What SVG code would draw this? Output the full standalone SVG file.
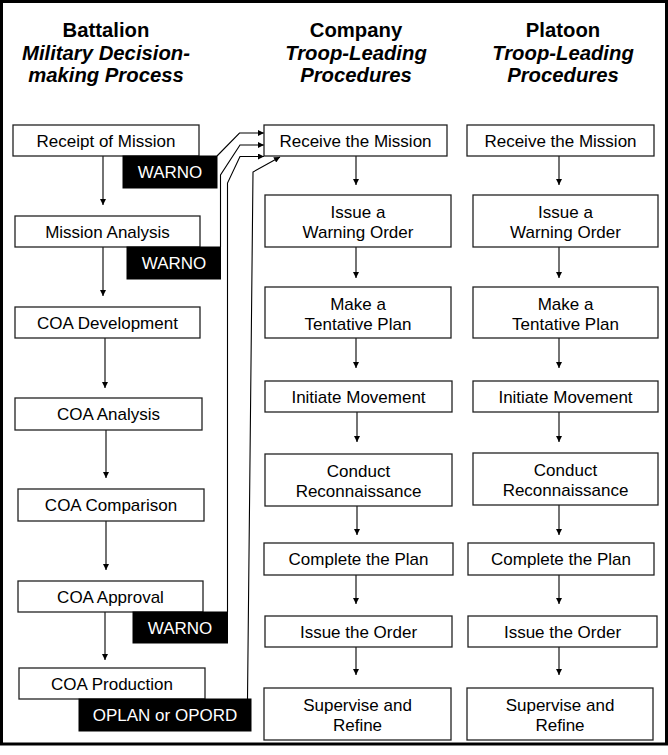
<svg xmlns="http://www.w3.org/2000/svg" width="668" height="755" viewBox="0 0 668 755">
  <style>
    .box { fill: #ffffff; stroke: #222222; stroke-width: 1.3; }
    .tag { fill: #000000; stroke: #000000; stroke-width: 1; }
    .lbl { font-family: "Liberation Sans", Arial, sans-serif; font-size: 17px; fill: #000000; text-anchor: middle; }
    .tlbl { font-family: "Liberation Sans", Arial, sans-serif; font-size: 17px; fill: #ffffff; text-anchor: middle; }
    .head { font-family: "Liberation Sans", Arial, sans-serif; font-size: 20.3px; font-weight: bold; fill: #000000; text-anchor: middle; }
    .sub { font-style: italic; }
    .link { fill: none; stroke: #000000; stroke-width: 1.1; marker-end: url(#arrow); }
  </style>
  <defs>
    <marker id="arrow" viewBox="0 0 10 10" refX="10" refY="5" markerWidth="7" markerHeight="6" markerUnits="userSpaceOnUse" orient="auto">
      <path d="M0,0 L10,5 L0,10 z" fill="#000000"/>
    </marker>
  </defs>

  <rect x="0" y="0" width="668" height="755" fill="#ffffff"/>
  <rect x="1.5" y="1.5" width="665" height="742.5" fill="none" stroke="#000000" stroke-width="3"/>

  <!-- column headings -->
  <g id="heading-battalion">
    <text class="head" x="106" y="37">Battalion</text>
    <text class="head sub" x="106" y="60">Military Decision-</text>
    <text class="head sub" x="106" y="82">making Process</text>
  </g>
  <g id="heading-company">
    <text class="head" x="356" y="37">Company</text>
    <text class="head sub" x="356" y="60">Troop-Leading</text>
    <text class="head sub" x="356" y="82">Procedures</text>
  </g>
  <g id="heading-platoon">
    <text class="head" x="563" y="37">Platoon</text>
    <text class="head sub" x="563" y="60">Troop-Leading</text>
    <text class="head sub" x="563" y="82">Procedures</text>
  </g>

  <!-- connectors -->
  <g id="connectors">
    <!-- battalion sequence -->
    <path class="link" d="M103,156 L103,205"/>
    <path class="link" d="M103,247 L103,296"/>
    <path class="link" d="M105,338 L105,388"/>
    <path class="link" d="M106,430 L106,478"/>
    <path class="link" d="M106,521 L106,570"/>
    <path class="link" d="M105,612 L105,660"/>
    <!-- orders passed to company -->
    <path class="link" d="M217,156 L239.5,133 L264,133"/>
    <path class="link" d="M220.5,247 L220.5,175 L240,145 L264,145"/>
    <path class="link" d="M227.5,612 L227.5,183 L240,156.5 L264,156.5"/>
    <path class="link" d="M247.5,699 L253,172 L280,157"/>
    <!-- company sequence -->
    <path class="link" d="M356,156 L356,185"/>
    <path class="link" d="M356,247 L356,278"/>
    <path class="link" d="M356,338 L356,368"/>
    <path class="link" d="M357,412 L357,442"/>
    <path class="link" d="M357,506 L357,535"/>
    <path class="link" d="M356,575 L356,604"/>
    <path class="link" d="M356,647 L356,675"/>
    <!-- platoon sequence -->
    <path class="link" d="M559,156 L559,185"/>
    <path class="link" d="M559,247 L559,278"/>
    <path class="link" d="M559,338 L559,368"/>
    <path class="link" d="M559,412 L559,442"/>
    <path class="link" d="M559,505 L559,535"/>
    <path class="link" d="M559,575 L559,604"/>
    <path class="link" d="M559,647 L559,675"/>
  </g>

  <!-- battalion steps -->
  <g id="b-receipt">
    <rect class="box" x="13" y="125" width="186" height="31"/>
    <text class="lbl" x="106" y="146.5">Receipt of Mission</text>
  </g>
  <g id="b-warno-1">
    <rect class="tag" x="123" y="156" width="94" height="32"/>
    <text class="tlbl" x="170" y="178">WARNO</text>
  </g>
  <g id="b-mission-analysis">
    <rect class="box" x="15" y="216" width="185" height="31"/>
    <text class="lbl" x="107.5" y="237.5">Mission Analysis</text>
  </g>
  <g id="b-warno-2">
    <rect class="tag" x="127" y="247" width="93.5" height="32"/>
    <text class="tlbl" x="174" y="269">WARNO</text>
  </g>
  <g id="b-coa-development">
    <rect class="box" x="15" y="307" width="185" height="31"/>
    <text class="lbl" x="107.5" y="328.5">COA Development</text>
  </g>
  <g id="b-coa-analysis">
    <rect class="box" x="15" y="398" width="187" height="32"/>
    <text class="lbl" x="108.5" y="420">COA Analysis</text>
  </g>
  <g id="b-coa-comparison">
    <rect class="box" x="18" y="489" width="186" height="32"/>
    <text class="lbl" x="111" y="511">COA Comparison</text>
  </g>
  <g id="b-coa-approval">
    <rect class="box" x="18" y="581" width="185" height="31"/>
    <text class="lbl" x="110.5" y="602.5">COA Approval</text>
  </g>
  <g id="b-warno-3">
    <rect class="tag" x="133" y="612" width="94.5" height="31"/>
    <text class="tlbl" x="180" y="633.5">WARNO</text>
  </g>
  <g id="b-coa-production">
    <rect class="box" x="19" y="668" width="186" height="31"/>
    <text class="lbl" x="112" y="689.5">COA Production</text>
  </g>
  <g id="b-oplan-opord">
    <rect class="tag" x="79" y="699" width="172" height="32"/>
    <text class="tlbl" x="165" y="721">OPLAN or OPORD</text>
  </g>

  <!-- company steps -->
  <g id="c-receive">
    <rect class="box" x="264" y="125" width="183" height="31"/>
    <text class="lbl" x="355.5" y="146.5">Receive the Mission</text>
  </g>
  <g id="c-warning-order">
    <rect class="box" x="265" y="195" width="186" height="52"/>
    <text class="lbl" x="358" y="218">Issue a</text>
    <text class="lbl" x="358" y="238">Warning Order</text>
  </g>
  <g id="c-tentative-plan">
    <rect class="box" x="265" y="287" width="186" height="51"/>
    <text class="lbl" x="358" y="309.5">Make a</text>
    <text class="lbl" x="358" y="329.5">Tentative Plan</text>
  </g>
  <g id="c-movement">
    <rect class="box" x="265" y="381" width="187" height="31"/>
    <text class="lbl" x="358.5" y="402.5">Initiate Movement</text>
  </g>
  <g id="c-reconnaissance">
    <rect class="box" x="265" y="454" width="187" height="52"/>
    <text class="lbl" x="358.5" y="477">Conduct</text>
    <text class="lbl" x="358.5" y="497">Reconnaissance</text>
  </g>
  <g id="c-complete-plan">
    <rect class="box" x="264" y="543" width="189" height="32"/>
    <text class="lbl" x="358.5" y="565">Complete the Plan</text>
  </g>
  <g id="c-issue-order">
    <rect class="box" x="265" y="616" width="187" height="31"/>
    <text class="lbl" x="358.5" y="637.5">Issue the Order</text>
  </g>
  <g id="c-supervise">
    <rect class="box" x="264" y="688" width="187" height="52"/>
    <text class="lbl" x="357.5" y="711">Supervise and</text>
    <text class="lbl" x="357.5" y="731">Refine</text>
  </g>

  <!-- platoon steps -->
  <g id="p-receive">
    <rect class="box" x="467" y="125" width="187" height="31"/>
    <text class="lbl" x="560.5" y="146.5">Receive the Mission</text>
  </g>
  <g id="p-warning-order">
    <rect class="box" x="473" y="195" width="185" height="52"/>
    <text class="lbl" x="565.5" y="218">Issue a</text>
    <text class="lbl" x="565.5" y="238">Warning Order</text>
  </g>
  <g id="p-tentative-plan">
    <rect class="box" x="473" y="287" width="185" height="51"/>
    <text class="lbl" x="565.5" y="309.5">Make a</text>
    <text class="lbl" x="565.5" y="329.5">Tentative Plan</text>
  </g>
  <g id="p-movement">
    <rect class="box" x="473" y="381" width="185" height="31"/>
    <text class="lbl" x="565.5" y="402.5">Initiate Movement</text>
  </g>
  <g id="p-reconnaissance">
    <rect class="box" x="473" y="453" width="185" height="52"/>
    <text class="lbl" x="565.5" y="476">Conduct</text>
    <text class="lbl" x="565.5" y="496">Reconnaissance</text>
  </g>
  <g id="p-complete-plan">
    <rect class="box" x="468" y="543" width="186" height="32"/>
    <text class="lbl" x="561" y="565">Complete the Plan</text>
  </g>
  <g id="p-issue-order">
    <rect class="box" x="468" y="616" width="189" height="31"/>
    <text class="lbl" x="562.5" y="637.5">Issue the Order</text>
  </g>
  <g id="p-supervise">
    <rect class="box" x="467" y="688" width="186" height="52"/>
    <text class="lbl" x="560" y="711">Supervise and</text>
    <text class="lbl" x="560" y="731">Refine</text>
  </g>
</svg>
